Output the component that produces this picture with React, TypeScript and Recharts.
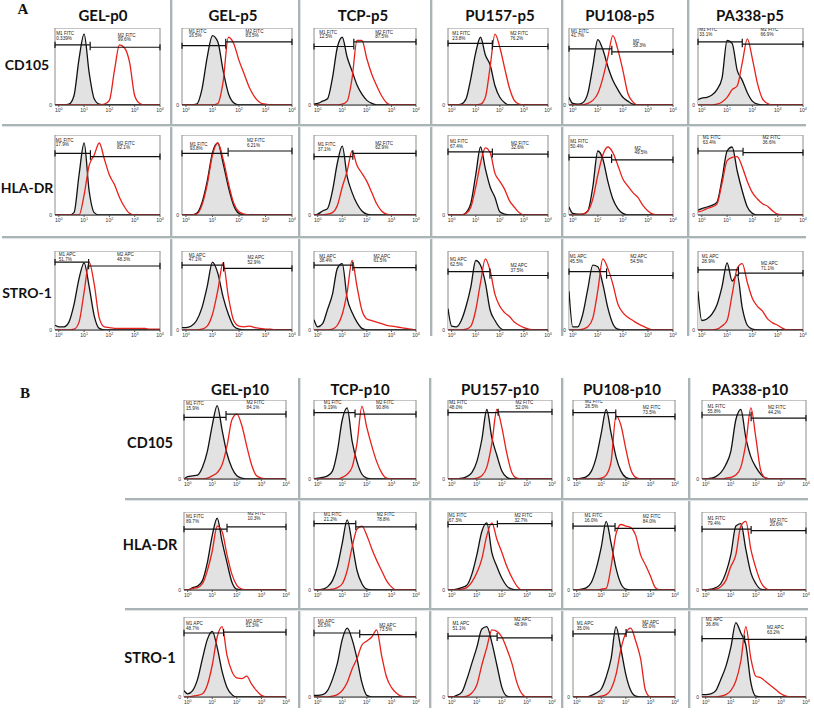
import React from 'react';
import { ComposedChart, Area, Line, XAxis, YAxis, ReferenceLine, ReferenceArea, ReferenceDot } from 'recharts';

// log10 fluorescence positions (decades); first point is the left edge of the plot box
const XS = [-0.15, 0, 0.2, 0.4, 0.6, 0.8, 1, 1.2, 1.4, 1.6, 1.8, 2, 2.2, 2.4, 2.6, 2.8, 3, 3.2, 3.4, 3.6, 3.8, 4];
const X_TICKS = [0, 1, 2, 3, 4];

const A_COLS = ['GEL-p0', 'GEL-p5', 'TCP-p5', 'PU157-p5', 'PU108-p5', 'PA338-p5'];
const B_COLS = ['GEL-p10', 'TCP-p10', 'PU157-p10', 'PU108-p10', 'PA338-p10'];
const MARKERS = ['CD105', 'HLA-DR', 'STRO-1'];
const CHANNELS = ['FITC', 'FITC', 'APC'];

// ---- panel A : CD105 ----
const A_CD105_CTRL = [
  [0, 0, 0, 1, 12, 60, 92, 42, 8, 1, 0, 0, 0, 0, 0, 0, 0, 0, 0, 0, 0, 0],
  [0, 0, 0, 1, 20, 62, 90, 82, 45, 15, 3, 0, 0, 0, 0, 0, 0, 0, 0, 0, 0, 0],
  [1, 2, 5, 8, 35, 75, 88, 62, 44, 26, 14, 6, 2, 0, 0, 0, 0, 0, 0, 0, 0, 0],
  [0, 0, 0, 1, 8, 35, 68, 88, 65, 52, 25, 10, 3, 0, 0, 0, 0, 0, 0, 0, 0, 0],
  [10, 2, 1, 3, 15, 50, 85, 72, 50, 32, 20, 10, 5, 1, 0, 0, 0, 0, 0, 0, 0, 0],
  [7, 9, 10, 13, 20, 35, 84, 80, 45, 32, 16, 5, 1, 0, 0, 0, 0, 0, 0, 0, 0, 0],
];
const A_CD105_TEST = [
  [0, 0, 0, 0, 0, 0, 0, 0, 0, 0, 1, 6, 45, 78, 74, 55, 12, 2, 0, 0, 0, 0],
  [0, 0, 0, 0, 0, 0, 0, 2, 30, 88, 80, 58, 40, 22, 10, 3, 1, 0, 0, 0, 0, 0],
  [0, 0, 0, 0, 0, 0, 1, 5, 35, 84, 84, 60, 40, 25, 12, 3, 0, 0, 0, 0, 0, 0],
  [0, 0, 0, 0, 0, 0, 0, 1, 10, 50, 92, 75, 48, 22, 6, 1, 0, 0, 0, 0, 0, 0],
  [0, 0, 0, 0, 2, 6, 15, 35, 62, 90, 72, 45, 15, 4, 0, 0, 0, 0, 0, 0, 0, 0],
  [0, 0, 0, 0, 1, 4, 10, 20, 25, 55, 86, 60, 28, 8, 2, 0, 0, 0, 0, 0, 0, 0],
];
const A_CD105_GATE = [1.24, 1.5, 1.47, 1.69, 1.56, 1.6];
const A_CD105_M1Y = [78, 77, 76, 80, 73, 82];
const A_CD105_M2Y = [75, 82, 82, 76, 69, 79];
const A_CD105_M1 = ['0.339%', '16.5%', '12.5%', '23.8%', '41.7%', '33.1%'];
const A_CD105_M2 = ['99.6%', '83.5%', '87.5%', '76.2%', '58.3%', '66.9%'];
const A_CD105_M2NAME = ['M2 FITC', 'M2 FITC', 'M2 FITC', 'M2 FITC', 'M2', 'M2 FITC'];
const A_CD105_LBL = [[-0.1, 93, 2.33, 91], [0.1, 96, 2.25, 96], [0.06, 95, 2.34, 95], [0.03, 93, 2.43, 93], [-0.07, 96, 2.4, 83], [-0.1, 98, 2.32, 98]];

// ---- panel A : HLA-DR ----
const A_HLA_CTRL = [
  [0, 0, 0, 0, 3, 50, 90, 30, 3, 0, 0, 0, 0, 0, 0, 0, 0, 0, 0, 0, 0, 0],
  [0, 0, 0, 2, 15, 42, 78, 90, 65, 35, 12, 2, 0, 0, 0, 0, 0, 0, 0, 0, 0, 0],
  [0, 1, 5, 8, 30, 65, 86, 48, 28, 14, 5, 1, 0, 0, 0, 0, 0, 0, 0, 0, 0, 0],
  [0, 0, 0, 0, 3, 15, 50, 85, 58, 35, 22, 4, 1, 0, 0, 0, 0, 0, 0, 0, 0, 0],
  [10, 2, 1, 1, 5, 35, 80, 70, 42, 20, 8, 2, 0, 0, 0, 0, 0, 0, 0, 0, 0, 0],
  [6, 8, 10, 12, 16, 45, 80, 85, 55, 30, 10, 2, 0, 0, 0, 0, 0, 0, 0, 0, 0, 0],
];
const A_HLA_TEST = [
  [0, 0, 0, 0, 0, 0, 25, 62, 75, 90, 70, 50, 38, 22, 10, 2, 0, 0, 0, 0, 0, 0],
  [0, 0, 0, 1, 12, 38, 75, 90, 70, 40, 15, 4, 1, 0, 0, 0, 0, 0, 0, 0, 0, 0],
  [0, 0, 0, 1, 3, 12, 35, 55, 80, 62, 52, 42, 28, 14, 5, 1, 0, 0, 0, 0, 0, 0],
  [0, 0, 0, 0, 2, 10, 35, 65, 84, 78, 52, 42, 32, 18, 10, 3, 0, 0, 0, 0, 0, 0],
  [0, 0, 0, 1, 5, 20, 50, 75, 85, 78, 62, 45, 36, 28, 22, 12, 5, 1, 0, 0, 0, 0],
  [4, 5, 8, 10, 14, 40, 68, 72, 73, 60, 42, 28, 20, 14, 11, 5, 1, 0, 0, 0, 0, 0],
];
const A_HLA_GATE = [1.25, 1.59, 1.43, 1.69, 1.55, 1.63];
const A_HLA_M1Y = [77, 77, 73, 79, 72, 80];
const A_HLA_M2Y = [73, 80, 77, 76, 69, 78];
const A_HLA_M1 = ['17.9%', '93.8%', '37.1%', '67.4%', '50.4%', '63.4%'];
const A_HLA_M2 = ['82.1%', '6.21%', '62.9%', '32.6%', '49.5%', '36.6%'];
const A_HLA_M2NAME = ['M2 FITC', 'M2 FITC', 'M2 FITC', 'M2 FITC', 'M2', 'M2 FITC'];
const A_HLA_LBL = [[-0.12, 94, 2.3, 90], [0.14, 89, 2.3, 93], [0, 88, 2.34, 90], [-0.07, 92, 2.46, 90], [-0.1, 92, 2.46, 84], [0.04, 97, 2.4, 97]];

// ---- panel A : STRO-1 ----
const A_STRO_CTRL = [
  [6, 4, 4, 10, 32, 65, 85, 55, 18, 2, 0, 0, 0, 0, 0, 0, 0, 0, 0, 0, 0, 0],
  [3, 3, 5, 12, 28, 55, 86, 72, 42, 20, 5, 1, 0, 0, 0, 0, 0, 0, 0, 0, 0, 0],
  [13, 4, 8, 26, 45, 78, 84, 40, 22, 10, 2, 0, 0, 0, 0, 0, 0, 0, 0, 0, 0, 0],
  [27, 5, 4, 12, 30, 55, 88, 82, 60, 25, 12, 3, 0, 0, 0, 0, 0, 0, 0, 0, 0, 0],
  [49, 4, 4, 20, 52, 82, 80, 58, 28, 8, 1, 0, 0, 0, 0, 0, 0, 0, 0, 0, 0, 0],
  [49, 12, 14, 20, 32, 55, 85, 62, 70, 28, 6, 1, 0, 0, 0, 0, 0, 0, 0, 0, 0, 0],
];
const A_STRO_TEST = [
  [0, 0, 0, 0, 1, 10, 48, 86, 58, 15, 4, 3, 2, 2, 2, 2, 2, 2, 2, 1, 1, 1],
  [0, 0, 0, 0, 1, 5, 20, 50, 85, 42, 12, 5, 4, 5, 3, 2, 1, 1, 0, 0, 0, 0],
  [0, 0, 0, 0, 1, 6, 20, 48, 88, 55, 25, 14, 12, 10, 8, 6, 5, 4, 3, 2, 1, 0],
  [0, 0, 0, 0, 1, 5, 25, 60, 90, 75, 45, 30, 22, 17, 10, 6, 3, 1, 0, 0, 0, 0],
  [0, 0, 0, 1, 4, 15, 50, 90, 78, 58, 33, 22, 16, 12, 8, 5, 2, 0, 0, 0, 0, 0],
  [0, 0, 0, 0, 1, 5, 12, 45, 78, 84, 60, 40, 30, 24, 14, 9, 6, 2, 0, 0, 0, 0],
];
const A_STRO_GATE = [1.18, 1.42, 1.43, 1.59, 1.35, 1.45];
const A_STRO_M1Y = [86, 82, 82, 74, 74, 76];
const A_STRO_M2Y = [81, 78, 79, 69, 69, 72];
const A_STRO_M1 = ['51.7%', '47.1%', '38.4%', '62.5%', '45.5%', '28.9%'];
const A_STRO_M2 = ['48.3%', '52.9%', '61.5%', '37.5%', '54.5%', '71.1%'];
const A_STRO_LBL = [[0, 96, 2.3, 96], [0.1, 95, 2.32, 92], [0.06, 94, 2.27, 94], [-0.07, 89, 2.44, 82], [-0.12, 93, 2.29, 93], [0, 93, 2.34, 84]];

// ---- panel B : CD105 ----
const B_CD105_CTRL = [
  [0, 3, 4, 5, 15, 35, 68, 93, 62, 32, 14, 4, 1, 0, 0, 0, 0, 0, 0, 0, 0, 0],
  [0, 1, 2, 4, 10, 35, 75, 90, 48, 22, 6, 1, 0, 0, 0, 0, 0, 0, 0, 0, 0, 0],
  [0, 0, 0, 1, 3, 8, 22, 50, 88, 52, 30, 10, 2, 0, 0, 0, 0, 0, 0, 0, 0, 0],
  [0, 0, 1, 3, 10, 28, 58, 88, 58, 28, 10, 2, 0, 0, 0, 0, 0, 0, 0, 0, 0, 0],
  [0, 0, 1, 3, 8, 18, 35, 75, 88, 52, 28, 15, 6, 1, 0, 0, 0, 0, 0, 0, 0, 0],
];
const B_CD105_TEST = [
  [0, 0, 0, 0, 0, 1, 4, 8, 18, 42, 75, 82, 68, 42, 18, 4, 1, 0, 0, 0, 0, 0],
  [0, 0, 0, 0, 0, 0, 2, 6, 15, 45, 92, 65, 42, 22, 8, 1, 0, 0, 0, 0, 0, 0],
  [0, 0, 0, 0, 0, 0, 1, 4, 15, 45, 88, 65, 32, 8, 1, 0, 0, 0, 0, 0, 0, 0],
  [0, 0, 0, 0, 0, 0, 1, 5, 22, 80, 68, 38, 12, 2, 0, 0, 0, 0, 0, 0, 0, 0],
  [0, 0, 0, 0, 0, 1, 2, 5, 15, 45, 90, 52, 10, 1, 0, 0, 0, 0, 0, 0, 0, 0],
];
const B_CD105_GATE = [1.56, 1.52, 1.85, 1.59, 1.81];
const B_CD105_M1Y = [78, 84, 84, 84, 81];
const B_CD105_M2Y = [82, 82, 85, 79, 77];
const B_CD105_M1 = ['15.9%', '9.19%', '48.0%', '26.5%', '55.8%'];
const B_CD105_M2 = ['84.1%', '90.8%', '52.0%', '73.5%', '44.2%'];
const B_CD105_LBL = [[-0.07, 96, 2.39, 97], [0.25, 97, 2.37, 97], [-0.1, 97, 2.54, 97], [0.34, 98, 2.69, 91], [0.07, 92, 2.48, 91]];

// ---- panel B : HLA-DR ----
const B_HLA_CTRL = [
  [0, 0, 3, 5, 12, 35, 70, 92, 62, 35, 10, 1, 0, 0, 0, 0, 0, 0, 0, 0, 0, 0],
  [0, 0, 1, 4, 12, 30, 60, 90, 60, 25, 8, 1, 0, 0, 0, 0, 0, 0, 0, 0, 0, 0],
  [0, 0, 1, 3, 6, 20, 45, 75, 86, 48, 30, 15, 5, 1, 0, 0, 0, 0, 0, 0, 0, 0],
  [0, 0, 1, 3, 10, 28, 55, 88, 60, 28, 8, 1, 0, 0, 0, 0, 0, 0, 0, 0, 0, 0],
  [0, 0, 1, 3, 8, 22, 45, 82, 85, 52, 22, 8, 1, 0, 0, 0, 0, 0, 0, 0, 0, 0],
];
const B_HLA_TEST = [
  [0, 0, 2, 3, 8, 25, 50, 82, 75, 45, 20, 6, 1, 0, 0, 0, 0, 0, 0, 0, 0, 0],
  [0, 0, 0, 0, 1, 3, 8, 25, 55, 78, 82, 70, 53, 38, 25, 12, 4, 0, 0, 0, 0, 0],
  [0, 0, 0, 1, 3, 10, 22, 40, 70, 86, 65, 48, 30, 16, 5, 0, 0, 0, 0, 0, 0, 0],
  [0, 0, 0, 0, 0, 0, 1, 2, 30, 72, 84, 82, 80, 70, 45, 32, 18, 3, 0, 0, 0, 0],
  [0, 0, 0, 1, 4, 12, 30, 45, 82, 88, 52, 28, 10, 2, 0, 0, 0, 0, 0, 0, 0, 0],
];
const B_HLA_GATE = [1.6, 1.55, 1.82, 1.56, 1.81];
const B_HLA_M1Y = [78, 85, 84, 82, 78];
const B_HLA_M2Y = [81, 81, 85, 79, 76];
const B_HLA_M1 = ['89.7%', '21.2%', '67.3%', '16.0%', '79.4%'];
const B_HLA_M2 = ['10.3%', '78.8%', '32.7%', '84.0%', '20.6%'];
const B_HLA_LBL = [[-0.07, 94, 2.43, 98], [0.25, 97, 2.4, 97], [-0.12, 96, 2.5, 96], [0.32, 96, 2.69, 94], [0.07, 92, 2.55, 90]];

// ---- panel B : STRO-1 ----
const B_STRO_CTRL = [
  [8, 4, 8, 22, 48, 72, 82, 62, 32, 12, 3, 0, 0, 0, 0, 0, 0, 0, 0, 0, 0, 0],
  [2, 2, 3, 8, 22, 42, 72, 86, 72, 48, 18, 2, 0, 0, 0, 0, 0, 0, 0, 0, 0, 0],
  [0, 0, 2, 6, 22, 42, 62, 85, 88, 68, 40, 12, 1, 0, 0, 0, 0, 0, 0, 0, 0, 0],
  [0, 0, 0, 0, 2, 5, 10, 25, 48, 88, 60, 28, 8, 1, 0, 0, 0, 0, 0, 0, 0, 0],
  [3, 3, 4, 8, 22, 38, 62, 93, 80, 65, 18, 1, 0, 0, 0, 0, 0, 0, 0, 0, 0, 0],
];
const B_STRO_TEST = [
  [0, 0, 1, 2, 4, 15, 40, 75, 88, 52, 32, 24, 23, 26, 16, 8, 2, 0, 0, 0, 0, 0],
  [0, 0, 0, 0, 1, 3, 8, 18, 35, 48, 65, 70, 75, 84, 52, 25, 12, 5, 1, 0, 0, 0],
  [0, 0, 0, 0, 1, 5, 15, 40, 62, 84, 82, 75, 60, 42, 18, 4, 0, 0, 0, 0, 0, 0],
  [0, 0, 0, 0, 0, 0, 1, 3, 10, 28, 60, 80, 86, 70, 48, 8, 0, 0, 0, 0, 0, 0],
  [0, 0, 0, 0, 1, 3, 8, 20, 45, 88, 48, 26, 24, 19, 14, 9, 4, 1, 0, 0, 0, 0],
];
const B_STRO_GATE = [1.46, 1.71, 1.81, 2.01, 1.55];
const B_STRO_M1Y = [80, 80, 76, 79, 73];
const B_STRO_M2Y = [81, 78, 74, 81, 72];
const B_STRO_M1 = ['48.7%', '26.5%', '51.1%', '35.0%', '36.8%'];
const B_STRO_M2 = ['51.3%', '73.5%', '48.9%', '65.0%', '63.2%'];
const B_STRO_LBL = [[-0.07, 92, 2.36, 95], [0, 95, 2.5, 90], [0.03, 92, 2.49, 97], [0, 92, 2.67, 94], [0, 97, 2.44, 87]];

// ---- layout (page pixels) ----
const A_BOX_X = [[55, 160], [182, 292], [314, 416], [448, 548], [569, 673], [698, 803]];
const A_BOX_Y = [[28, 105], [135, 215], [251, 330]];
const B_BOX_X = [[184, 286], [314, 416], [448, 552], [573, 675], [702, 806]];
const B_BOX_Y = [[400, 479], [512, 590], [617, 697]];
const A_TITLE_X = [103, 233, 363, 500, 620, 750];
const B_TITLE_X = [240, 360, 500, 622, 750];
const A_ROW_LABEL_Y = [65, 188, 293];
const B_ROW_LABEL_Y = [443, 545, 658];

const X_MIN = -0.15;
const X_MAX = 4;
const INK = '#111';
const RED = '#e8201a';
const FILL = '#e2e2e2';
const SEP = '#aab3b6';
const SANS = 'Lato, "Open Sans", sans-serif';
const SMALL = '"Liberation Sans", Arial, sans-serif';

const A_ROWS = [
  { ctrl: A_CD105_CTRL, test: A_CD105_TEST, gate: A_CD105_GATE, m1y: A_CD105_M1Y, m2y: A_CD105_M2Y, m1: A_CD105_M1, m2: A_CD105_M2, lbl: A_CD105_LBL, m2name: A_CD105_M2NAME },
  { ctrl: A_HLA_CTRL, test: A_HLA_TEST, gate: A_HLA_GATE, m1y: A_HLA_M1Y, m2y: A_HLA_M2Y, m1: A_HLA_M1, m2: A_HLA_M2, lbl: A_HLA_LBL, m2name: A_HLA_M2NAME },
  { ctrl: A_STRO_CTRL, test: A_STRO_TEST, gate: A_STRO_GATE, m1y: A_STRO_M1Y, m2y: A_STRO_M2Y, m1: A_STRO_M1, m2: A_STRO_M2, lbl: A_STRO_LBL, m2name: null },
];
const B_ROWS = [
  { ctrl: B_CD105_CTRL, test: B_CD105_TEST, gate: B_CD105_GATE, m1y: B_CD105_M1Y, m2y: B_CD105_M2Y, m1: B_CD105_M1, m2: B_CD105_M2, lbl: B_CD105_LBL, m2name: null },
  { ctrl: B_HLA_CTRL, test: B_HLA_TEST, gate: B_HLA_GATE, m1y: B_HLA_M1Y, m2y: B_HLA_M2Y, m1: B_HLA_M1, m2: B_HLA_M2, lbl: B_HLA_LBL, m2name: null },
  { ctrl: B_STRO_CTRL, test: B_STRO_TEST, gate: B_STRO_GATE, m1y: B_STRO_M1Y, m2y: B_STRO_M2Y, m1: B_STRO_M1, m2: B_STRO_M2, lbl: B_STRO_LBL, m2name: null },
];

function PowTick(props: any) {
  const { x, y, payload } = props;
  return (
    <text x={x} y={y + 3} textAnchor="middle" fontSize={5} fill="#333" fontFamily={SMALL}>
      10<tspan dy={-2} fontSize={3.6}>{payload.value}</tspan>
    </text>
  );
}

function GateText(props: any) {
  const { cx, cy, lines } = props;
  return (
    <text x={cx} y={cy + 1.8} fontSize={4.6} fill="#222" fontFamily={SMALL}>
      <tspan x={cx}>{lines[0]}</tspan>
      <tspan x={cx} dy={4.6}>{lines[1]}</tspan>
    </text>
  );
}

function ZeroText(props: any) {
  const { cx, cy } = props;
  return (
    <text x={cx - 3} y={cy + 1.5} textAnchor="end" fontSize={5} fill="#333" fontFamily={SMALL}>0</text>
  );
}

function Histo({ box, yb, ctrl, test, gate, m1y, m2y, m1Lines, m2Lines, lbl }: any) {
  const W = box[1] - box[0] + 16;
  const H = yb[1] - yb[0] + 12;
  const data = XS.map((x, i) => ({ x, c: ctrl[i], t: test[i] }));
  const seg = (x1: number, y1: number, x2: number, y2: number) => [{ x: x1, y: y1 }, { x: x2, y: y2 }];
  const lo = Math.min(m1y, m2y) - 4;
  const hi = Math.max(m1y, m2y) + 4;
  return (
    <div style={{ position: 'absolute', left: box[0] - 8, top: yb[0], width: W, height: H }}>
      <ComposedChart width={W} height={H} data={data} margin={{ top: 0, right: 8, bottom: 0, left: 8 }}>
        <XAxis
          dataKey="x"
          type="number"
          domain={[X_MIN, X_MAX]}
          ticks={X_TICKS}
          interval={0}
          allowDataOverflow
          height={12}
          tickSize={2}
          tick={PowTick}
          axisLine={{ stroke: '#333' }}
          tickLine={{ stroke: '#555' }}
        />
        <YAxis hide domain={[0, 100]} allowDataOverflow />
        <ReferenceArea x1={X_MIN} x2={X_MAX} y1={0} y2={100} fill="#fff" fillOpacity={0} stroke="#8c8c8c" strokeWidth={1} />
        <Area type="monotone" dataKey="c" stroke={INK} strokeWidth={1.3} fill={FILL} fillOpacity={1} dot={false} activeDot={false} isAnimationActive={false} />
        <Line type="monotone" dataKey="t" stroke={RED} strokeWidth={1.3} dot={false} activeDot={false} isAnimationActive={false} />
        <ReferenceLine segment={seg(X_MIN, m1y, gate, m1y)} stroke={INK} strokeWidth={1.2} />
        <ReferenceLine segment={seg(gate, m2y, X_MAX, m2y)} stroke={INK} strokeWidth={1.2} />
        <ReferenceLine segment={seg(X_MIN, m1y - 4, X_MIN, m1y + 4)} stroke={INK} strokeWidth={1.2} />
        <ReferenceLine segment={seg(gate, lo, gate, hi)} stroke={INK} strokeWidth={1.2} />
        <ReferenceLine segment={seg(X_MAX, m2y - 4, X_MAX, m2y + 4)} stroke={INK} strokeWidth={1.2} />
        <ReferenceDot x={lbl[0]} y={lbl[1]} r={0} shape={(p: any) => <GateText {...p} lines={m1Lines} />} />
        <ReferenceDot x={lbl[2]} y={lbl[3]} r={0} shape={(p: any) => <GateText {...p} lines={m2Lines} />} />
        <ReferenceDot x={X_MIN} y={0} r={0} shape={(p: any) => <ZeroText {...p} />} />
      </ComposedChart>
    </div>
  );
}

function Txt({ x, y, children, size = 15, family = SANS }: any) {
  return (
    <div
      style={{
        position: 'absolute', left: x, top: y, transform: 'translate(-50%, -50%)',
        fontFamily: family, fontWeight: 700, fontSize: size, color: '#111', whiteSpace: 'nowrap', lineHeight: 1,
      }}
    >
      {children}
    </div>
  );
}

function VLine({ x, y1, y2 }: any) {
  return <div style={{ position: 'absolute', left: x - 1, top: y1, width: 2, height: y2 - y1, background: SEP, boxShadow: '1px 0 1px #dde2e3' }} />;
}
function HLine({ y, x1, x2 }: any) {
  return <div style={{ position: 'absolute', left: x1, top: y - 1, width: x2 - x1, height: 2, background: SEP, boxShadow: '0 1px 1px #dde2e3' }} />;
}

export default function App() {
  return (
    <div style={{ position: 'absolute', left: 0, top: 0, width: 814, height: 715, background: '#fff', overflow: 'hidden' }}>
      <style>{'body{margin:0}'}</style>

      {[171, 299, 431, 562, 688].map((x) => <VLine key={'av' + x} x={x} y1={0} y2={336} />)}
      {[125, 237].map((y) => <HLine key={'ah' + y} y={y} x1={2} x2={806} />)}
      {[299, 430, 562, 689].map((x) => <VLine key={'bv' + x} x={x} y1={378} y2={708} />)}
      {[499, 609].map((y) => <HLine key={'bh' + y} y={y} x1={125} x2={808} />)}

      <Txt x={23} y={9} size={15} family='"Liberation Serif", "Times New Roman", serif'>A</Txt>
      <Txt x={25} y={393} size={15} family='"Liberation Serif", "Times New Roman", serif'>B</Txt>

      {A_COLS.map((c, i) => <Txt key={c} x={A_TITLE_X[i]} y={15}>{c}</Txt>)}
      {B_COLS.map((c, i) => <Txt key={c} x={B_TITLE_X[i]} y={389}>{c}</Txt>)}
      {MARKERS.map((m, r) => <Txt key={'al' + m} x={27} y={A_ROW_LABEL_Y[r]} size={14}>{m}</Txt>)}
      {MARKERS.map((m, r) => <Txt key={'bl' + m} x={150} y={B_ROW_LABEL_Y[r]} size={14.5}>{m}</Txt>)}

      {A_ROWS.map((row, r) =>
        A_COLS.map((c, i) => (
          <Histo
            key={'a' + r + c}
            box={A_BOX_X[i]}
            yb={A_BOX_Y[r]}
            ctrl={row.ctrl[i]}
            test={row.test[i]}
            gate={row.gate[i]}
            m1y={row.m1y[i]}
            m2y={row.m2y[i]}
            m1Lines={['M1 ' + CHANNELS[r], row.m1[i]]}
            m2Lines={[row.m2name ? row.m2name[i] : 'M2 ' + CHANNELS[r], row.m2[i]]}
            lbl={row.lbl[i]}
          />
        ))
      )}
      {B_ROWS.map((row, r) =>
        B_COLS.map((c, i) => (
          <Histo
            key={'b' + r + c}
            box={B_BOX_X[i]}
            yb={B_BOX_Y[r]}
            ctrl={row.ctrl[i]}
            test={row.test[i]}
            gate={row.gate[i]}
            m1y={row.m1y[i]}
            m2y={row.m2y[i]}
            m1Lines={['M1 ' + CHANNELS[r], row.m1[i]]}
            m2Lines={['M2 ' + CHANNELS[r], row.m2[i]]}
            lbl={row.lbl[i]}
          />
        ))
      )}
    </div>
  );
}
